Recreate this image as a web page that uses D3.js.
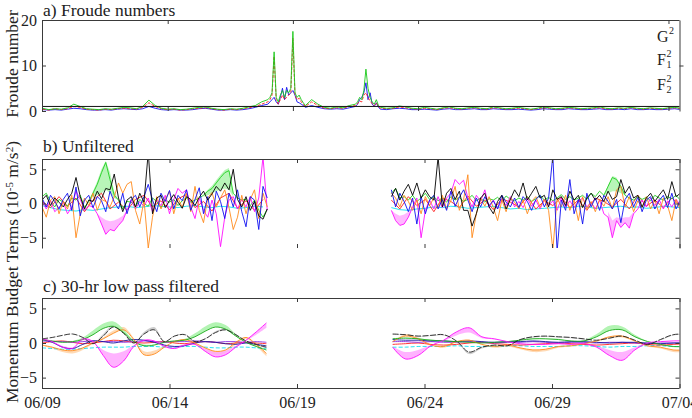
<!DOCTYPE html>
<html><head><meta charset="utf-8">
<script src="https://cdn.jsdelivr.net/npm/d3@7"></script>
<style>
body{margin:0;background:#fff}
svg{display:block}
</style>
</head><body>
<svg id="c" width="692" height="418" style="font-family:'Liberation Serif'"></svg>
<script>
// ---------------- DATA ----------------
// time axis: days after 06/09 00:00
const xTickDays = [0, 5, 10, 15, 20, 25];
const xTickLabels = ['06/09', '06/14', '06/19', '06/24', '06/29', '07/04'];
const yTicksA = [0, 10, 20];
const yTicksBC = [-5, 0, 5];
const froudeCritical = 1;
const legendLabels = ['G', 'F', 'F'];

// Panel a sampling: [start day, step, count]
const froudeGrid = [[0, 0.25, 36], [9, 1/12, 19], [10.75, 0.25, 8], [12.5 + 1/12, 1/12, 11], [13.5, 0.25, 49]];
const froudeG = [
  0.6,0.3,0.5,0.4,0.7,1.5,1.0,0.5,0.4,0.3, 0.5,0.4,0.6,0.8,0.7,0.5,1.0,2.4,1.2,0.6, 0.4,0.5,0.3,0.4,0.6,0.8,0.9,0.6,0.4,0.3, 0.5,0.4,0.6,0.9,1.2,2.0,
  2.5,3.0,4.0,13.0,3.0,2.0,3.5,4.5,3.0,4.5, 4.0,5.0,17.5,4.0,3.0,3.5,2.5,1.8,1.2,
  2.5,1.5,0.8,0.6,0.9,0.7,1.2,1.5,
  2.0,3.0,2.5,4.5,9.2,5.0,3.0,2.0,1.5,2.5,1.2,
  0.8,0.6,0.7,1.1,0.9,0.6,0.5,0.8,0.6,0.4, 0.7,0.9,0.6,0.5,0.7,0.8,0.6,0.5,0.9,0.7, 0.5,0.6,0.8,0.6,0.4,0.6,0.9,0.7,0.5,0.6, 0.8,0.7,0.5,0.6,0.7,0.9,0.6,0.5,0.7,0.6, 0.8,0.6,0.5,0.7,0.6,0.5,0.7,0.8,0.6];
const froudeF1 = [
  0.4,0.2,0.5,0.3,0.5,1.0,0.8,0.4,0.3,0.2, 0.4,0.3,0.5,0.6,0.5,0.4,0.8,1.8,1.0,0.5, 0.3,0.4,0.2,0.3,0.5,0.6,0.7,0.5,0.3,0.2, 0.4,0.3,0.5,0.7,1.0,1.5,
  2.0,2.5,3.5,12.0,2.5,1.5,2.5,3.5,2.5,3.0, 3.5,4.0,16.0,3.5,2.5,2.8,2.0,1.5,1.0,
  2.0,1.2,0.6,0.5,0.7,0.6,1.0,1.2,
  1.6,2.2,2.0,3.5,4.0,3.0,2.2,1.6,1.2,1.8,1.0,
  0.6,0.5,0.6,0.9,0.7,0.5,0.4,0.6,0.5,0.3, 0.6,0.7,0.5,0.4,0.6,0.7,0.5,0.4,0.7,0.6, 0.4,0.5,0.6,0.5,0.3,0.5,0.7,0.6,0.4,0.5, 0.7,0.6,0.4,0.5,0.6,0.7,0.5,0.4,0.6,0.5, 0.7,0.5,0.4,0.6,0.5,0.4,0.6,0.7,0.5];
const froudeF2 = [
  0.3,0.2,0.3,0.2,0.4,0.6,0.5,0.3,0.2,0.2, 0.3,0.2,0.4,0.5,0.4,0.3,0.5,1.0,0.6,0.3, 0.2,0.3,0.2,0.2,0.3,0.5,0.6,0.4,0.2,0.2, 0.3,0.2,0.3,0.5,0.8,1.2,
  1.5,2.0,2.5,3.0,2.0,1.5,3.0,5.0,2.5,5.2, 3.5,4.0,4.5,3.5,2.0,1.8,1.5,1.2,0.8,
  1.2,0.8,0.5,0.4,0.5,0.4,0.7,1.0,
  1.5,2.5,3.0,4.0,6.2,2.5,4.0,1.5,1.0,1.8,0.8,
  0.4,0.3,0.5,0.6,0.5,0.3,0.3,0.4,0.3,0.2, 0.4,0.5,0.3,0.3,0.4,0.5,0.3,0.3,0.5,0.4, 0.3,0.3,0.4,0.3,0.2,0.3,0.5,0.4,0.3,0.3, 0.5,0.4,0.3,0.3,0.4,0.5,0.3,0.3,0.4,0.3, 0.5,0.3,0.3,0.4,0.3,0.3,0.4,0.5,0.3];

// Panel b sampling
const bGrid1 = [0, 1/6, 54], bGrid2 = [13.7, 1/6, 69];
const bGridS1 = [0, 1/3, 27], bGridS2 = [13.7, 1/3, 35];
const bBlack1 = [0.5,1.2,-0.3,0.8,0.2,-0.5, 0.6,1.5,3.8,1.0,-0.8,0.5, 0.3,1.8,0.7,2.2,2.0,4.3, 0.8,-1.2,0.5,1.0,-0.5,1.5, 0.2,7.5,-1.5,0.8,1.2,-0.6, 0.4,1.3,0.2,-0.7,1.0,0.6, -0.3,0.9,1.8,0.5,1.4,2.5, 1.8,3.0,2.0,5.0,0.6,-0.5, 1.0,-1.0,0.3,-1.8,-2.3,-0.8];
const bBlack2 = [1.0,2.2,0.5,1.8,2.8,1.2, 3.0,0.8,2.0,1.0,0.5,6.8, -0.5,1.5,2.2,0.6,1.8,-1.0, -1.0,-3.3,-1.5,0.8,1.5,-0.5, -1.5,0.3,1.2,-0.8,0.6,2.0, 1.0,3.0,0.5,1.5,2.5,0.8, 1.2,-0.5,2.0,0.6,1.0,-0.3, 1.8,0.5,1.2,-0.6,0.8,1.5, 0.5,1.2,0.3,1.8,0.6,1.0, 3.5,1.5,2.5,0.8,1.2,-0.5, 0.8,1.5,0.3,1.2,2.0,0.6, 3.2,1.0,1.5];
const bBlue1 = [0.8,-0.5,1.2,0.3,-0.8,0.6, 1.5,-1.0,2.4,-1.8,0.5,1.2, -0.6,1.0,0.4,-1.2,1.8,0.2, -0.8,1.5,-1.5,0.6,1.2,-0.5, 1.0,2.8,0.5,-1.2,1.5,0.3, 1.9,-0.8,1.2,0.4,2.0,-1.0, 0.6,2.3,-1.5,1.0,-2.5,1.8, 0.3,-2.2,1.5,-0.5,2.0,-1.2, -3.4,1.0,0.5,-3.8,2.5,0.8];
const bBlue2 = [2.0,-0.5,1.5,0.3,-1.2,0.8, -3.0,1.0,-1.5,0.5,1.2,-0.8, 0.6,-1.0,1.8,-0.4,0.9,2.0, 0.5,-1.2,0.8,-0.5,1.0,-0.3, 0.4,-0.8,1.2,0.2,-0.5,0.8, -0.6,1.0,0.3,-1.0,0.6,1.2, -0.5,0.8,7.0,-7.0,0.5,-1.0, 3.5,-1.5,0.6,-3.0,1.5,-0.5, 0.8,-1.0,1.2,0.3,-0.8,0.6, -2.8,0.6,1.5,-0.5,0.9,-1.2, 0.5,1.0,-0.8,0.4,1.2,-0.6, 1.5,-0.8,0.5];
const bGreen1 = [1.0,1.5,0.3,-0.5,0.6,0.2, -0.4,0.8,0.5,1.2,-0.6,0.3, 1.5,2.8,4.5,6.0,3.5,1.2, 0.5,-0.8,0.3,0.2,-0.5,0.6, 0.0,-0.4,0.8,0.3,-0.6,0.5, 0.2,0.6,-0.3,0.4,0.8,0.2, 0.5,0.8,1.2,1.8,2.2,3.0, 3.8,4.5,4.8,1.5,0.8,0.5, 0.6,-0.3,0.5,-1.0,-2.0,-0.8];
const bGreen2 = [1.5,2.2,0.8,1.0,0.5,1.2, 0.3,0.8,1.5,0.6,1.0,0.4, 0.8,0.2,1.0,0.5,0.9,0.3, 0.6,1.2,0.4,0.8,0.2,0.7, 0.5,0.9,0.3,1.1,0.6,0.4, 0.8,0.5,1.0,0.3,0.7,1.2, 0.5,0.9,0.4,0.8,1.3,0.6, 1.0,0.5,0.8,1.2,0.6,1.5, 1.0,1.8,1.2,2.5,3.8,3.5, 2.5,1.2,0.8,0.5,1.0,0.6, 0.9,0.4,1.2,0.8,0.5,1.0, 0.7,1.2,0.5];
const bOrange1 = [-0.5,-2.0,0.5,1.0,-1.5,0.3, -0.8,1.2,-5.0,-1.5,0.8,-0.3, 1.5,-1.0,0.6,0.3,-0.5,1.0, 3.0,1.5,2.8,3.2,-1.0,-3.0, 0.5,-6.5,-2.0,1.0,-0.8,0.6, 1.8,-1.5,0.8,-0.6,1.5,-1.2, 2.5,-1.0,-2.8,0.8,1.6,-0.5, 0.8,2.0,-0.6,-3.8,-2.0,1.2, -1.5,0.6,2.0,-2.2,1.5,-0.5];
const bOrange2 = [1.5,0.8,-0.5,1.2,0.3,-1.0, 0.5,-1.5,1.0,-0.3,0.8,-0.6, 1.2,-0.8,0.4,2.5,-1.0,0.6, 4.2,-5.0,-1.5,0.8,-0.4,1.0, -0.6,-2.5,0.5,-1.2,0.8,0.2, -0.8,0.5,-1.5,0.3,1.0,-0.5, 0.6,-1.0,-6.8,0.8,-0.5,1.2, -1.0,0.5,-2.5,1.0,-0.8,0.3, -1.2,0.6,-0.4,1.0,-0.8,2.0, 2.5,-0.5,1.0,-1.2,0.4,-0.6, 1.0,-0.8,0.5,-1.5,0.8,-0.3, -2.5,0.6,-1.0];
const bMagenta1 = [0.3,-0.8,0.5,-1.2,-0.6,0.2, -1.5,-0.5,1.8,0.6,-1.0,-0.3, -0.5,-1.5,-3.0,-4.5,-3.8,-4.0, -3.2,-2.5,-1.0,0.5,-0.8,0.3, -0.4,0.8,-1.2,0.5,-0.3,1.2, -1.5,0.6,2.2,1.5,2.0,-0.5, -2.2,0.8,-1.0,-2.0,0.5,-1.5, -6.3,-2.0,0.5,1.0,-0.8,0.6, -0.5,1.0,-1.2,0.8,6.8,-1.0];
const bMagenta2 = [-1.0,-2.5,-3.2,-3.0,-2.0,-0.5, 0.8,-5.0,-1.0,0.5,-0.8,1.0, -0.6,0.8,1.5,3.5,2.8,3.4, 0.8,-0.5,1.2,0.3,2.0,-0.6, 0.5,-0.8,0.6,-0.3,1.0,-0.5, 0.3,-0.6,0.8,-0.4,0.5,-0.8, 0.6,-0.3,0.4,-1.0,0.8,-0.5, 0.4,-0.6,0.3,0.8,-0.5,0.2, -0.8,0.5,-1.5,-2.0,-5.0,-2.5, -3.5,-2.8,-3.6,-1.5,-0.8,0.5, -0.5,0.8,-0.3,0.6,-0.8,0.4, -0.5,0.6,-0.2];
const bRed1 = [0.3,-0.6,1.0,-0.4,0.8,-1.2,0.5,1.5,-0.8,0.2,-1.0,0.6,1.2,-0.5,0.4,-0.9,0.7,1.3,-0.6,0.3,-1.1,0.8,1.5,-0.7,0.4,-1.0,0.6];
const bRed2 = [0.5,-0.8,1.0,-0.3,0.6,-1.2,0.8,0.3,-0.6,1.1,-0.4,0.5,-0.9,0.7,0.2,-0.5,1.0,-0.8,0.4,-0.3,0.9,-0.6,0.5,-1.0,0.8,0.3,-0.5,0.6,-0.8,1.2,-0.4,0.5,-0.6,0.8,-0.3];
const bCyan1 = [-0.3,-0.6,-0.9,-1.0,-1.1,-0.9,-1.0,-0.8,-0.6,-0.5,-0.4,-0.6,-0.5,-0.3,-0.4,-0.5,-0.6,-0.4,-0.3,-0.5,-0.6,-0.4,-0.5,-0.7,-0.6,-0.4,-0.5];
const bCyan2 = [-0.6,-0.9,-1.0,-0.8,-0.7,-0.5,-0.6,-0.4,-0.5,-0.7,-0.6,-0.5,-0.4,-0.6,-0.8,-0.7,-0.9,-0.8,-0.7,-0.6,-0.5,-0.6,-0.4,-0.5,-0.7,-0.6,-0.5,-0.4,-0.6,-0.5,-0.7,-0.6,-0.4,-0.5,-0.6];
// panel b shaded bands: [day, low, high]
const bBandGreen1 = [[1.83,0.3,0.3],[2.0,1.0,1.8],[2.17,1.2,3.3],[2.33,1.5,5.0],[2.5,2.0,6.2],[2.67,1.5,4.5],[2.83,0.8,1.8],[3.0,0.5,0.5]];
const bBandGreen2 = [[6.33,1.0,1.3],[6.5,1.2,2.0],[6.67,1.5,2.6],[6.83,1.8,3.4],[7.0,2.0,4.2],[7.17,2.2,4.9],[7.33,2.0,5.2],[7.5,1.0,1.6]];
const bBandGreen3 = [[22.03,1.2,1.2],[22.2,1.5,2.7],[22.37,1.8,4.0],[22.53,1.8,3.8],[22.7,1.5,2.6],[22.87,1.2,1.3]];
const bBandMagenta1 = [[2.17,-1.5,-1.5],[2.33,-3.0,-2.0],[2.5,-4.5,-2.4],[2.67,-3.8,-2.6],[2.83,-4.0,-2.5],[3.0,-3.2,-2.2],[3.17,-2.5,-1.8],[3.33,-1.0,-1.0]];
const bBandMagenta2 = [[13.7,-1.0,-1.0],[13.87,-2.5,-1.5],[14.03,-3.2,-1.8],[14.2,-3.0,-1.6],[14.37,-2.0,-1.2],[14.53,-0.5,-0.5]];
const bBandMagenta3 = [[22.2,-2.0,-1.2],[22.37,-5.0,-2.5],[22.53,-2.5,-2.0],[22.7,-3.5,-2.2],[22.87,-2.8,-2.0],[23.03,-3.6,-2.0],[23.2,-1.5,-1.2]];

// Panel c sampling
const cGrid1 = [0, 0.4, 23], cGrid2 = [13.75, 0.5, 24];
const cBlack1 = [0.6,0.8,1.1,1.3,0.8,-0.1,1.0,2.3,1.4,0.0,1.3,1.9,0.2,1.0,1.2,0.2,0.6,1.5,1.9,1.2,0.3,-0.2,-0.6];
const cBlack1b = [0.6,0.8,1.1,1.3,0.8,0.0,1.3,2.6,1.6,0.1,1.6,2.3,0.3,1.1,1.3,0.3,0.7,1.7,2.1,1.3,0.3,-0.3,-0.8];
const cGreen1 = [0.5,0.3,0.1,0.2,0.5,1.2,2.1,2.4,1.5,0.2,-0.4,-0.3,0.1,0.3,0.4,0.9,1.7,2.3,2.0,1.0,0.1,-0.5,-1.0];
const cGreen1b = [0.5,0.3,0.2,0.3,0.8,1.8,2.8,3.1,2.0,0.4,-0.2,-0.2,0.1,0.3,0.6,1.4,2.4,3.0,2.6,1.3,0.2,-0.4,-1.1];
const cOrange1 = [-0.3,-0.6,-1.0,-1.1,-0.7,0.0,0.6,1.4,1.9,0.5,-1.7,-1.6,-0.6,0.2,0.5,0.0,-0.7,-1.2,-1.0,0.1,0.8,-0.2,-1.5];
const cOrange1b = [-0.4,-0.8,-1.3,-1.5,-1.0,-0.1,0.8,1.8,2.3,0.7,-1.2,-1.1,-0.4,0.1,0.4,-0.2,-1.1,-1.7,-1.4,-0.2,0.6,-0.5,-1.9];
const cMagenta1 = [0.6,0.2,-0.6,-0.8,0.6,0.2,-1.8,-3.5,-2.6,-0.5,0.4,0.3,-0.5,-0.8,-0.3,-0.2,-1.2,-2.0,-1.7,-0.6,0.4,1.6,2.9];
const cMagenta1b = [0.6,0.2,-0.4,-0.6,0.4,0.0,-1.0,-1.5,-1.2,-0.3,0.3,0.2,-0.3,-0.5,-0.2,-0.2,-0.8,-1.3,-1.1,-0.4,0.3,1.2,2.2];
const cBlue1 = [0.5,0.1,-0.6,-0.8,-0.2,0.3,0.2,0.0,0.3,0.5,0.4,0.1,-0.3,-0.5,-0.4,0.0,0.2,0.1,-0.1,-0.2,0.0,-0.2,-0.4];
const cCyan1 = [-0.7,-0.8,-0.9,-0.9,-0.8,-0.7,-0.6,-0.6,-0.6,-0.5,-0.5,-0.5,-0.6,-0.6,-0.5,-0.5,-0.6,-0.7,-0.7,-0.6,-0.6,-0.7,-0.8];
const cRed1 = [0.0,0.2,0.3,0.1,-0.1,0.0,0.2,0.4,0.3,0.1,0.0,0.1,0.2,0.0,-0.1,0.1,0.2,0.1,-0.1,0.0,0.1,0.0,-0.1];
const cPurple1 = [0.3,0.2,0.2,0.1,0.2,0.3,0.2,0.2,0.1,0.2,0.3,0.2,0.1,0.2,0.2,0.3,0.2,0.1,0.2,0.2,0.1,0.2,0.1];
const cBlack2 = [1.3,1.2,1.0,1.1,1.2,0.3,-1.3,-0.6,-0.3,-0.4,0.5,0.9,1.0,0.9,0.8,0.6,0.4,0.7,1.0,0.4,-0.2,0.5,1.2,1.3];
const cBlack2b = [1.2,1.1,0.9,1.0,1.1,0.3,-1.6,-0.8,-0.4,-0.4,0.4,0.8,0.9,0.8,0.7,0.5,0.4,0.6,0.9,0.4,-0.1,0.4,1.1,1.2];
const cMagenta2 = [-0.6,-2.3,-1.8,-0.4,0.4,1.6,2.2,0.9,0.6,0.2,-0.1,-0.2,-0.2,-0.1,-0.2,-0.1,-0.6,-1.8,-2.5,-1.0,0.0,0.2,0.3,0.3];
const cMagenta2b = [-0.5,-1.3,-1.0,-0.3,0.3,1.1,1.5,0.7,0.5,0.2,-0.1,-0.2,-0.2,-0.1,-0.2,-0.1,-0.4,-1.0,-1.3,-0.6,0.0,0.2,0.3,0.3];
const cGreen2 = [0.6,0.7,0.6,0.4,0.3,0.2,0.1,0.0,0.1,0.2,0.4,0.6,0.6,0.5,0.3,0.3,0.9,1.8,1.9,0.9,0.2,-0.2,-0.5,-0.5];
const cGreen2b = [0.7,0.8,0.7,0.5,0.3,0.2,0.1,0.0,0.1,0.2,0.5,0.7,0.7,0.6,0.3,0.4,1.3,2.5,2.4,1.2,0.3,-0.2,-0.6,-0.6];
const cOrange2 = [0.2,1.0,0.6,-0.3,-0.5,0.2,0.4,-0.2,-0.5,-0.3,-0.7,-1.0,-0.9,-0.5,-0.4,-0.1,0.3,0.9,1.0,0.3,-0.4,-0.6,-1.0,-1.0];
const cOrange2b = [0.1,1.3,0.8,-0.2,-0.7,0.1,0.5,-0.3,-0.7,-0.5,-0.9,-1.3,-1.2,-0.7,-0.5,-0.2,0.2,0.7,0.8,0.2,-0.5,-0.8,-1.3,-1.3];
const cBlue2 = [0.5,0.4,0.4,0.3,0.3,0.2,0.3,0.2,0.1,0.2,0.2,0.3,0.2,0.1,0.2,0.2,0.1,0.0,0.1,0.1,0.0,-0.1,0.0,0.0];
const cPurple2 = [0.2,0.2,0.1,0.2,0.1,0.1,0.2,0.1,0.0,0.1,0.1,0.2,0.1,0.0,0.1,0.1,0.0,0.1,0.1,0.0,-0.1,0.0,0.0,0.0];
const cCyan2 = [-0.6,-0.6,-0.5,-0.5,-0.5,-0.4,-0.5,-0.5,-0.5,-0.4,-0.4,-0.5,-0.5,-0.5,-0.4,-0.4,-0.5,-0.6,-0.5,-0.5,-0.4,-0.4,-0.5,-0.5];
const cRed2 = [-0.2,-0.1,0.0,-0.2,-0.3,-0.2,0.0,0.1,-0.1,-0.2,-0.3,-0.2,-0.1,0.0,-0.1,-0.2,-0.3,-0.2,-0.1,0.0,-0.2,-0.3,-0.2,-0.1];

// ---------------- DRAWING ----------------
const COL = {black:'#000000', blue:'#1010f0', green:'#22d022', orange:'#ff8a1c', magenta:'#ff10ff', red:'#ff2020', cyan:'#10e0f0', purple:'#8b2be0'};
const BAND = {black:'#c4c4c4', green:'#a6f2a6', orange:'#ffd3a8', magenta:'#ffa6ff'};
const AX = '#3a3a3a';
const svg = d3.select('#c');
const grid = (s, st, n) => d3.range(n).map(i => s + i * st);
const pairs = (spec, vals) => { const ds = grid(...spec); return vals.map((v, i) => [ds[i], v]); };

const L = 42, R = 679.5;
const xA = d3.scaleLinear().domain([0, 25.44]).range([42.5, R]);
const yA = d3.scaleLinear().domain([0, 20]).range([111, 20]);
const xB = d3.scaleLinear().domain([0, 25]).range([L, R]);
const yB = d3.scaleLinear().domain([-6.5, 6.5]).range([248, 159]);
const yC = d3.scaleLinear().domain([-6.5, 6.5]).range([388, 298]);

function clip(id, x0, y0, x1, y1) {
  svg.append('clipPath').attr('id', id).append('rect').attr('x', x0).attr('y', y0).attr('width', x1 - x0).attr('height', y1 - y0);
}
clip('ca', L, 20, R, 111); clip('cb', L, 159, R, 248); clip('cc', L, 298, R, 388);

function styleAxis(g) {
  g.attr('font-family', null);
  g.selectAll('path.domain').attr('stroke', AX).attr('stroke-width', 1);
  g.selectAll('.tick line').attr('stroke', AX).attr('stroke-width', 1);
  g.selectAll('.tick text').attr('fill', '#222');
}

function frame(x, y, yt, top, bottom, bottomSpine, bottomLabels, rightOut) {
  const gl = svg.append('g').attr('transform', `translate(${L},0)`)
    .call(d3.axisLeft(y).tickValues(yt).tickSizeInner(-4).tickSizeOuter(0).tickPadding(5).tickFormat(d3.format('d')));
  gl.selectAll('.tick text').attr('font-size', 16);
  styleAxis(gl);
  const gt = svg.append('g').attr('transform', `translate(0,${top})`)
    .call(d3.axisTop(x).tickValues(xTickDays.slice(1)).tickSizeInner(-4).tickSizeOuter(0).tickFormat(''));
  gt.select('path.domain').attr('d', `M${L},0.5H${R}`);
  styleAxis(gt);
  const gr = svg.append('g').attr('transform', `translate(${R},0)`)
    .call(d3.axisRight(y).tickValues(rightOut ? [10] : yt).tickSizeInner(rightOut ? 4 : -4).tickSizeOuter(0).tickFormat(''));
  styleAxis(gr);
  const gb = svg.append('g').attr('transform', `translate(0,${bottom})`)
    .call(d3.axisBottom(x).tickValues(bottomLabels ? xTickDays : xTickDays.slice(1)).tickSizeInner(-4).tickSizeOuter(0).tickPadding(9)
      .tickFormat(bottomLabels ? ((d, i) => xTickLabels[i]) : ''));
  if (bottomSpine) gb.select('path.domain').attr('d', `M${L},0.5H${R}`); else gb.select('path.domain').remove();
  gb.selectAll('.tick text').attr('font-size', 16);
  gb.selectAll('.tick').filter(d => d === 0).select('line').remove();
  styleAxis(gb);
}

// ---- Panel a ----
const daysA = froudeGrid.flatMap(g => grid(...g));
const gA = svg.append('g').attr('clip-path', 'url(#ca)');
const lineA = d3.line().x(d => xA(d[0])).y(d => yA(d[1]));
[[froudeF2, COL.blue], [froudeF1, COL.red], [froudeG, '#18c818']].forEach(([vals, c]) => {
  gA.append('path').attr('d', lineA(vals.map((v, i) => [daysA[i], v])))
    .attr('fill', 'none').attr('stroke', c).attr('stroke-width', 0.9).attr('stroke-dasharray', c === COL.red ? '3,1.5' : null);
});
svg.append('line').attr('x1', L).attr('x2', R).attr('y1', yA(froudeCritical)).attr('y2', yA(froudeCritical))
  .attr('stroke', '#111').attr('stroke-width', 1);
frame(xA, yA, yTicksA, 20, 111, false, false, true);

// legend
const legY = [42, 65, 90];
const legSupX = [669, 666.5, 666.5];
legendLabels.forEach((t, i) => {
  svg.append('text').attr('x', 657).attr('y', legY[i]).attr('font-size', 16).text(t);
  svg.append('text').attr('x', legSupX[i]).attr('y', legY[i] - 8).attr('font-size', 10).text('2');
  if (i > 0) svg.append('text').attr('x', legSupX[i]).attr('y', legY[i] + 3).attr('font-size', 10).text(String(i));
});

// ---- Panel b ----
const gB = svg.append('g').attr('clip-path', 'url(#cb)');
const areaB = d3.area().x(d => xB(d[0])).y0(d => yB(d[1])).y1(d => yB(d[2]));
[[bBandGreen1, BAND.green], [bBandGreen2, BAND.green], [bBandGreen3, BAND.green],
 [bBandMagenta1, BAND.magenta], [bBandMagenta2, BAND.magenta], [bBandMagenta3, BAND.magenta]].forEach(([d, c]) => {
  gB.append('path').attr('d', areaB(d)).attr('fill', c).attr('opacity', 0.8);
});
const lineB = d3.line().x(d => xB(d[0])).y(d => yB(d[1]));
const seriesB = [
  [bCyan1, bCyan2, COL.cyan, true], [bRed1, bRed2, COL.red, true],
  [bGreen1, bGreen2, COL.green], [bMagenta1, bMagenta2, COL.magenta], [bOrange1, bOrange2, COL.orange],
  [bBlue1, bBlue2, COL.blue], [bBlack1, bBlack2, COL.black]];
seriesB.forEach(([s1, s2, c, slow]) => {
  [[slow ? bGridS1 : bGrid1, s1], [slow ? bGridS2 : bGrid2, s2]].forEach(([spec, vals]) => {
    gB.append('path').attr('d', lineB(pairs(spec, vals))).attr('fill', 'none').attr('stroke', c).attr('stroke-width', 0.9);
  });
});
frame(xB, yB, yTicksBC, 159, 248, false, false, false);

// ---- Panel c ----
const gC = svg.append('g').attr('clip-path', 'url(#cc)');
const cv = d3.curveCatmullRom.alpha(0.5);
const lineC = d3.line().x(d => xB(d[0])).y(d => yC(d[1])).curve(cv);
const areaC = d3.area().x(d => xB(d[0])).y0(d => yC(d[1])).y1(d => yC(d[2])).curve(cv);
const bandC = [[cBlack1, cBlack1b, cBlack2, cBlack2b, BAND.black], [cOrange1, cOrange1b, cOrange2, cOrange2b, BAND.orange],
  [cGreen1, cGreen1b, cGreen2, cGreen2b, BAND.green], [cMagenta1, cMagenta1b, cMagenta2, cMagenta2b, BAND.magenta]];
bandC.forEach(([a1, b1, a2, b2, c]) => {
  [[cGrid1, a1, b1], [cGrid2, a2, b2]].forEach(([spec, a, b]) => {
    const ds = grid(...spec);
    gC.append('path').attr('d', areaC(a.map((v, i) => [ds[i], v, b[i]]))).attr('fill', c).attr('opacity', 0.85);
  });
});
const seriesC = [
  [cCyan1, cCyan2, COL.cyan, '4,2'], [cRed1, cRed2, COL.red, null], [cPurple1, cPurple2, COL.purple, null],
  [cBlue1, cBlue2, '#1a1aa0', null], [cOrange1, cOrange2, COL.orange, null], [cGreen1, cGreen2, '#1aaa1a', null],
  [cMagenta1, cMagenta2, COL.magenta, null], [cBlack1, cBlack2, '#222', '6,1.5']];
seriesC.forEach(([s1, s2, c, dash]) => {
  [[cGrid1, s1], [cGrid2, s2]].forEach(([spec, vals]) => {
    gC.append('path').attr('d', lineC(pairs(spec, vals))).attr('fill', 'none').attr('stroke', c)
      .attr('stroke-width', 0.9).attr('stroke-dasharray', dash);
  });
});
frame(xB, yC, yTicksBC, 298, 388, true, true, false);

// ---- titles & labels ----
const T = (x, y, s, t) => svg.append('text').attr('x', x).attr('y', y).attr('font-size', s).text(t);
T(43, 15.5, 17.5, 'a) Froude numbers');
T(43, 152, 17.5, 'b) Unfiltered');
T(43, 291.5, 17.5, 'c) 30-hr low pass filtered');
svg.append('text').attr('transform', 'translate(17.5,64) rotate(-90)').attr('text-anchor', 'middle')
  .attr('font-size', 17.5).text('Froude number');
const yl = svg.append('text').attr('transform', 'translate(17.5,272) rotate(-90)').attr('text-anchor', 'middle')
  .attr('font-size', 17.5);
yl.append('tspan').text('Momentum Budget Terms (10');
yl.append('tspan').attr('dy', -5).attr('font-size', 11).text('-5');
yl.append('tspan').attr('dy', 5).text(' m/s');
yl.append('tspan').attr('dy', -5).attr('font-size', 11).text('2');
yl.append('tspan').attr('dy', 5).text(')');

// serif face on every text element
svg.selectAll('g').attr('font-family', null);
svg.selectAll('text').each(function () {
  this.setAttribute('style', "font-family:'Liberation Serif'; fill:#222");
});
</script>
</body></html>
